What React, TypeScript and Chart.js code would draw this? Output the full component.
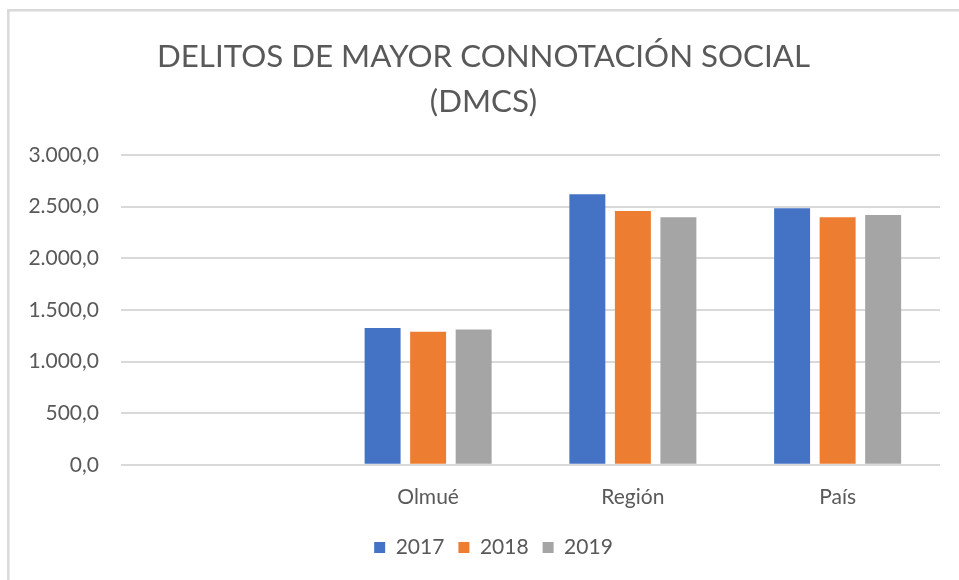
import React, { useEffect, useRef } from "react";
import { Chart, registerables } from "chart.js";

Chart.register(...registerables);

const titleLines = ["DELITOS DE MAYOR CONNOTACIÓN SOCIAL", "(DMCS)"];
const categories = ["", "Olmué", "Región", "País"];
const seriesNames = ["2017", "2018", "2019"];
const values2017 = [null, 1324, 2619, 2484];
const values2018 = [null, 1289, 2458, 2397];
const values2019 = [null, 1311, 2397, 2419];
const seriesColors = ["#4472C4", "#ED7D31", "#A5A5A5"];
const yMin = 0;
const yMax = 3000;
const yStep = 500;

const FONT = "Lato, 'Noto Sans', sans-serif";
const TEXT = "#595959";
const LEGEND_DX = 10;
const LEGEND_DY = 1;

function fmt(v: number): string {
  const neg = v < 0;
  const fixed = Math.abs(v).toFixed(1);
  const [intPart, dec] = fixed.split(".");
  const grouped = intPart.replace(/\B(?=(\d{3})+(?!\d))/g, ".");
  return (neg ? "-" : "") + grouped + "," + dec;
}

const frame = {
  id: "frame",
  beforeDraw(chart: any) {
    const ctx = chart.ctx;
    ctx.save();
    ctx.fillStyle = "#ffffff";
    ctx.fillRect(0, 0, chart.width, chart.height);
    ctx.strokeStyle = "#d9d9d9";
    ctx.lineWidth = 2.5;
    ctx.beginPath();
    ctx.moveTo(8.3, chart.height);
    ctx.lineTo(8.3, 10.3);
    ctx.lineTo(chart.width, 10.3);
    ctx.stroke();
    ctx.restore();
    const lg = chart.legend;
    if (lg && !lg._shifted) {
      lg.left += LEGEND_DX;
      lg.right += LEGEND_DX;
      lg.top += LEGEND_DY;
      lg.bottom += LEGEND_DY;
      lg._shifted = true;
    }
  },
  afterLayout(chart: any) {
    if (chart.legend) chart.legend._shifted = false;
  },
};

export default function App() {
  const ref = useRef<HTMLCanvasElement | null>(null);
  useEffect(() => {
    if (!ref.current) return;
    const all = [values2017, values2018, values2019];
    const chart = new Chart(ref.current, {
      type: "bar",
      data: {
        labels: categories,
        datasets: seriesNames.map((name, i) => ({
          label: name,
          data: all[i],
          backgroundColor: seriesColors[i],
          borderWidth: 0,
          categoryPercentage: 0.667,
          barPercentage: 0.79,
        })),
      },
      options: {
        responsive: false,
        animation: false,
        layout: { padding: { left: 27, right: 19, top: 10, bottom: 13 } },
        plugins: {
          title: {
            display: true,
            text: titleLines,
            color: TEXT,
            font: { family: FONT, size: 31.3, weight: "normal", lineHeight: 45 / 31.3 },
            padding: { top: 24.5, bottom: 30.5 },
          },
          legend: {
            position: "bottom",
            labels: {
              color: TEXT,
              font: { family: FONT, size: 21 },
              boxWidth: 11,
              boxHeight: 11,
              padding: 14,
            },
          },
          tooltip: { enabled: false },
        },
        scales: {
          x: {
            grid: { display: false },
            border: { display: false },
            ticks: {
              color: TEXT,
              font: { family: FONT, size: 21 },
              padding: 12,
            },
          },
          y: {
            min: yMin,
            max: yMax,
            afterFit: (s: any) => {
              s.width = 94;
            },
            ticks: {
              stepSize: yStep,
              color: TEXT,
              font: { family: FONT, size: 21 },
              padding: 22,
              callback: (v: any) => fmt(Number(v)),
            },
            grid: { color: "#d9d9d9", lineWidth: 2, drawTicks: false },
            border: { display: false },
          },
        },
      },
      plugins: [frame],
    });
    return () => chart.destroy();
  }, []);
  return (
    <div style={{ position: "absolute", left: 0, top: 0, width: 959, height: 580 }}>
      <canvas ref={ref} width={959} height={580} style={{ display: "block" }} />
    </div>
  );
}
